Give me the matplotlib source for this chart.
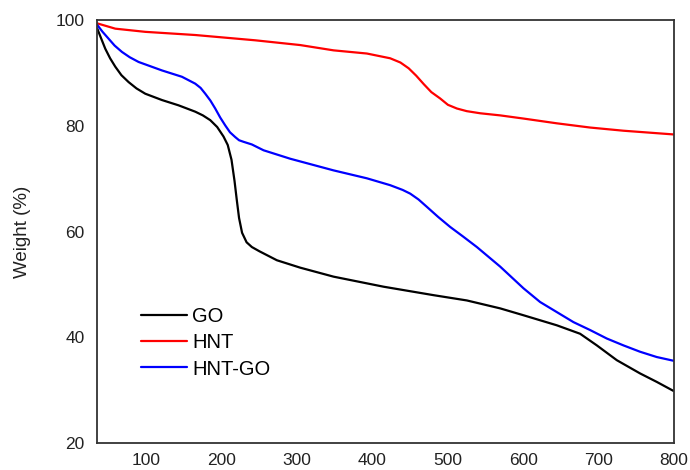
import matplotlib
matplotlib.use('Agg')
import matplotlib.pyplot as plt

# temperature (C) / weight (%)
go_t = [35, 40, 45.6, 52, 58.9, 67, 76.5, 87, 98.6, 120.8, 142.8, 164.9, 175,
        184.8, 194, 202.4, 208, 213, 217, 220, 223, 227, 233, 240,
        250, 273.2, 304.1, 348.3, 414.6, 480.9, 525.1, 569.3, 600.2, 644.4,
        675.3, 697.5, 724, 754.8, 776.9, 799]
go_w = [98.4, 96.6, 94.6, 92.8, 91.2, 89.6, 88.3, 87.1, 86.1, 84.9, 83.9, 82.7, 82.0,
        81.1, 79.8, 78.0, 76.4, 73.6, 69.6, 66.0, 62.6, 59.8, 58.0, 57.1,
        56.3, 54.6, 53.2, 51.5, 49.6, 48.0, 47.0, 45.5, 44.2, 42.3,
        40.7, 38.5, 35.7, 33.2, 31.6, 29.9]

hnt_t = [35, 58.9, 98.6, 164.9, 244.5, 304.1, 348.3, 392.5, 423.4, 437,
         448, 458, 468, 478, 489.7, 500, 511.9, 525, 542.8, 569.3, 600.2,
         644.4, 688.6, 732.8, 799]
hnt_w = [99.4, 98.4, 97.8, 97.2, 96.2, 95.3, 94.3, 93.7, 92.8, 92.0,
         90.9, 89.5, 87.9, 86.4, 85.2, 84.0, 83.3, 82.8, 82.4, 82.0, 81.4,
         80.5, 79.7, 79.1, 78.4]

hntgo_t = [35, 42, 50, 58, 67.7, 78, 89.8, 120.8, 147.3, 164.9, 172, 178.2,
           185, 191.4, 198, 204.7, 211, 217.9, 223, 229, 240, 255.5, 290.9,
           348.3, 392.5, 423.4, 440, 450, 461, 472.1, 487, 503, 520, 538.4,
           569.3, 600.2, 622.3, 644.4, 666.5, 688.6, 710.7, 732.8, 754.8,
           776.9, 799]
hntgo_w = [99.1, 97.8, 96.5, 95.2, 94.0, 93.0, 92.1, 90.5, 89.3, 88.0, 87.2,
           86.1, 84.8, 83.3, 81.6, 80.1, 78.8, 77.9, 77.3, 77.0, 76.5, 75.4,
           73.8, 71.6, 70.1, 68.8, 67.9, 67.2, 66.1, 64.7, 62.8, 60.9, 59.1,
           57.1, 53.4, 49.3, 46.7, 44.8, 42.9, 41.4, 39.8, 38.5, 37.3,
           36.3, 35.6]

plt.rcParams['font.family'] = ['Liberation Sans', 'DejaVu Sans']

fig = plt.figure(figsize=(6.9, 4.7), dpi=100)
ax = fig.add_axes([0.141, 0.057, 0.836, 0.9])

style = dict(lw=1.6, solid_joinstyle='round', solid_capstyle='round')
ax.plot(go_t, go_w, color='black', label='GO', **style)
ax.plot(hnt_t, hnt_w, color='#ff0000', label='HNT', **style)
ax.plot(hntgo_t, hntgo_w, color='#0000ff', label='HNT-GO', **style)

ax.set_xlim(35, 800)
ax.set_ylim(20, 100)
ax.set_xticks([100, 200, 300, 400, 500, 600, 700, 800])
ax.set_yticks([20, 40, 60, 80, 100])
ax.tick_params(length=0, labelsize=12.5, colors='#222222')
ax.tick_params(axis='y', pad=9)
ax.tick_params(axis='x', pad=7)
for s in ax.spines.values():
    s.set_linewidth(1.3)
    s.set_color('#333333')

ax.set_ylabel('Weight (%)', fontsize=13.5, color='#222222', labelpad=18)

ax.legend(loc='upper left', bbox_to_anchor=(0.075, 0.322), frameon=False,
          fontsize=14.5, handlelength=2.3, handletextpad=0.25,
          labelspacing=0.36, borderpad=0, borderaxespad=0)

fig.savefig('out.png', dpi=100)
